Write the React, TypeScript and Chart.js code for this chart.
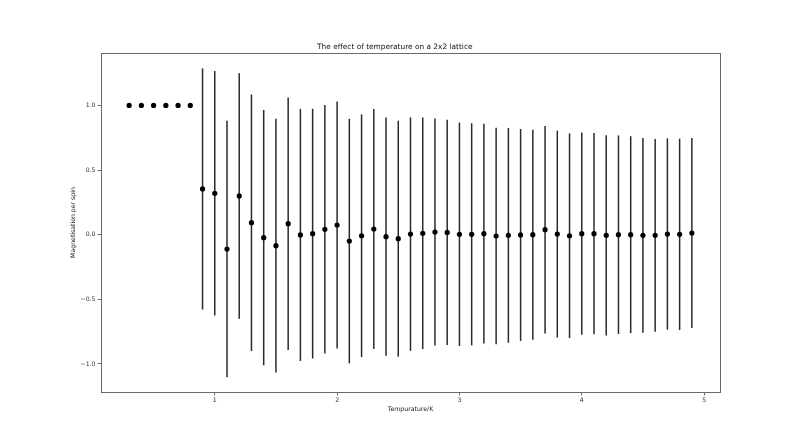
import React, { useEffect, useRef } from "react";
import { Chart, registerables } from "chart.js";

Chart.register(...registerables);

const temperatures = [
  0.3, 0.4, 0.5, 0.6, 0.7, 0.8, 0.9, 1.0, 1.1, 1.2, 1.3, 1.4, 1.5, 1.6, 1.7, 1.8,
  1.9, 2.0, 2.1, 2.2, 2.3, 2.4, 2.5, 2.6, 2.7, 2.8, 2.9, 3.0, 3.1, 3.2, 3.3, 3.4,
  3.5, 3.6, 3.7, 3.8, 3.9, 4.0, 4.1, 4.2, 4.3, 4.4, 4.5, 4.6, 4.7, 4.8, 4.9,
];

const magnetisation = [
  1.0, 1.0, 1.0, 1.0, 1.0, 1.0, 0.354, 0.32, -0.111, 0.3, 0.093, -0.023, -0.085,
  0.085, -0.002, 0.008, 0.042, 0.075, -0.049, -0.008, 0.044, -0.015, -0.031,
  0.005, 0.011, 0.021, 0.018, 0.003, 0.003, 0.008, -0.01, -0.005, -0.002, 0.0,
  0.039, 0.005, -0.008, 0.008, 0.008, -0.005, 0.0, 0.0, -0.005, -0.005, 0.005,
  0.003, 0.013,
];

const errors = [
  0, 0, 0, 0, 0, 0, 0.933, 0.946, 0.992, 0.95, 0.992, 0.988, 0.982, 0.977, 0.975,
  0.966, 0.961, 0.955, 0.946, 0.939, 0.928, 0.922, 0.913, 0.903, 0.896, 0.879,
  0.871, 0.864, 0.859, 0.85, 0.837, 0.831, 0.82, 0.812, 0.803, 0.8, 0.792, 0.782,
  0.779, 0.774, 0.768, 0.762, 0.754, 0.745, 0.74, 0.74, 0.735,
];

const xTicks = [1, 2, 3, 4, 5];
const yTicks = [-1.0, -0.5, 0.0, 0.5, 1.0];

const FONT = "'DejaVu Sans', sans-serif";

const errorBarPlugin = {
  id: "errorBars",
  beforeDatasetsDraw(chart: any) {
    const { ctx, chartArea, scales } = chart;
    const xs = scales.x;
    const ys = scales.y;
    ctx.save();
    ctx.beginPath();
    ctx.rect(chartArea.left, chartArea.top, chartArea.right - chartArea.left, chartArea.bottom - chartArea.top);
    ctx.clip();
    ctx.strokeStyle = "#2a2a2a";
    ctx.lineWidth = 1.5;
    temperatures.forEach((t, i) => {
      const e = errors[i];
      if (!e) return;
      const px = xs.getPixelForValue(t);
      const y1 = ys.getPixelForValue(magnetisation[i] - e);
      const y2 = ys.getPixelForValue(magnetisation[i] + e);
      ctx.beginPath();
      ctx.moveTo(px, y1);
      ctx.lineTo(px, y2);
      ctx.stroke();
    });
    ctx.restore();
  },
  afterDraw(chart: any) {
    const { ctx, chartArea } = chart;
    ctx.save();
    ctx.strokeStyle = "#6a6a6a";
    ctx.lineWidth = 1;
    ctx.strokeRect(
      Math.round(chartArea.left) + 0.5,
      Math.round(chartArea.top) + 0.5,
      Math.round(chartArea.right - chartArea.left),
      Math.round(chartArea.bottom - chartArea.top)
    );
    ctx.restore();
  },
};

export default function App() {
  const ref = useRef<HTMLCanvasElement | null>(null);

  useEffect(() => {
    document.body.style.margin = "0";
    const canvas = ref.current;
    if (!canvas) return;
    const chart = new Chart(canvas, {
      type: "scatter",
      data: {
        datasets: [
          {
            data: temperatures.map((t, i) => ({ x: t, y: magnetisation[i] })),
            backgroundColor: "#000000",
            borderColor: "#000000",
            pointRadius: 2.6,
            pointHoverRadius: 2.6,
            borderWidth: 0,
          },
        ],
      },
      options: {
        responsive: false,
        animation: false,
        events: [],
        layout: { padding: { left: 69.6, right: 80, top: 0, bottom: 28.3 } },
        plugins: {
          legend: { display: false },
          tooltip: { enabled: false },
          title: {
            display: true,
            text: "The effect of temperature on a 2x2 lattice",
            color: "#111",
            font: { family: FONT, size: 7.4, weight: "normal" },
            padding: { top: 42.3, bottom: 1.8 },
          },
        },
        scales: {
          x: {
            type: "linear",
            min: 0.07,
            max: 5.13,
            afterBuildTicks: (scale: any) => {
              scale.ticks = xTicks.map((v) => ({ value: v }));
            },
            afterFit: (scale: any) => {
              scale.height = 20.7;
            },
            grid: {
              display: true,
              drawOnChartArea: false,
              drawTicks: true,
              tickLength: 3.5,
              color: "#6a6a6a",
            },
            border: { display: false },
            ticks: {
              color: "#333",
              font: { family: FONT, size: 6.2 },
              padding: 1.5,
              maxRotation: 0,
              autoSkip: false,
              callback: (v: any) => String(v),
            },
            title: {
              display: true,
              text: "Tempurature/K",
              color: "#222",
              font: { family: FONT, size: 6.2 },
              padding: 0,
            },
          },
          y: {
            type: "linear",
            min: -1.217,
            max: 1.406,
            afterBuildTicks: (scale: any) => {
              scale.ticks = yTicks.map((v) => ({ value: v }));
            },
            afterFit: (scale: any) => {
              scale.width = 31.4;
            },
            grid: {
              display: true,
              drawOnChartArea: false,
              drawTicks: true,
              tickLength: 3.5,
              color: "#6a6a6a",
            },
            border: { display: false },
            ticks: {
              color: "#333",
              font: { family: FONT, size: 6.2 },
              padding: 2,
              autoSkip: false,
              callback: (v: any) => Number(v).toFixed(1).replace("-", "\u2212"),
            },
            title: {
              display: true,
              text: "Magnetisation per spin",
              color: "#222",
              font: { family: FONT, size: 6.2 },
              padding: 0,
            },
          },
        },
      },
      plugins: [errorBarPlugin],
    });
    return () => chart.destroy();
  }, []);

  return (
    <div style={{ position: "absolute", left: 0, top: 0, width: 800, height: 441, background: "#fff" }}>
      <canvas ref={ref} width={800} height={441} style={{ display: "block" }} />
    </div>
  );
}
